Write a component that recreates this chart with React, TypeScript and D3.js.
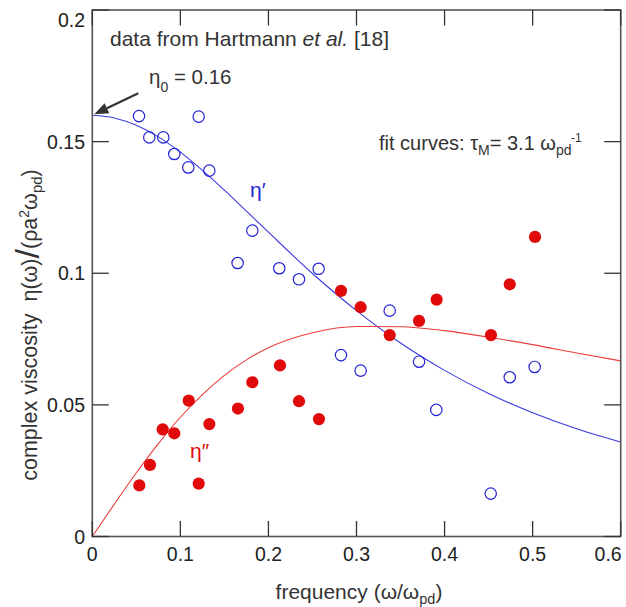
import React from 'react';
import * as d3 from 'd3';

// ---- data ----
const X_TICKS = [0, 0.1, 0.2, 0.3, 0.4, 0.5, 0.6];
const X_TICK_LABELS = ['0', '0.1', '0.2', '0.3', '0.4', '0.5', '0.6'];
const Y_TICKS = [0, 0.05, 0.1, 0.15, 0.2];
const Y_TICK_LABELS = ['0', '0.05', '0.1', '0.15', '0.2'];

// eta' (open blue circles)
const etaPrimeFreq = [0.053, 0.0647, 0.0806, 0.0931, 0.109, 0.1208, 0.1329, 0.165, 0.1817, 0.2123, 0.2347, 0.257, 0.2824, 0.3047, 0.3377, 0.371, 0.3906, 0.4524, 0.474, 0.5023];
const etaPrimeVal = [0.1597, 0.1516, 0.1516, 0.1453, 0.1402, 0.1595, 0.139, 0.1039, 0.1162, 0.1019, 0.0977, 0.1017, 0.0689, 0.063, 0.0858, 0.0664, 0.0481, 0.0163, 0.0605, 0.0644];

// eta'' (filled red circles)
const etaDoubleFreq = [0.0534, 0.0655, 0.0799, 0.0931, 0.1095, 0.1208, 0.1329, 0.1654, 0.1817, 0.2131, 0.2347, 0.2574, 0.2824, 0.3047, 0.3377, 0.371, 0.391, 0.4527, 0.474, 0.5027];
const etaDoubleVal = [0.0194, 0.0272, 0.0407, 0.0392, 0.0516, 0.0201, 0.0427, 0.0486, 0.0586, 0.065, 0.0514, 0.0446, 0.0933, 0.0871, 0.0765, 0.0819, 0.09, 0.0765, 0.0958, 0.1138];

// fit curves
const fitFreq = [0, 0.025, 0.05, 0.075, 0.1, 0.125, 0.15, 0.175, 0.2, 0.25, 0.3, 0.35, 0.4, 0.45, 0.5, 0.55, 0.6];
const fitEtaPrime = [0.16, 0.159, 0.1562, 0.1518, 0.146, 0.1391, 0.1316, 0.1236, 0.1156, 0.0999, 0.0858, 0.0735, 0.0631, 0.0543, 0.047, 0.0409, 0.0359];
const fitEtaDouble = [0, 0.0123, 0.0242, 0.0353, 0.0453, 0.0539, 0.0612, 0.0671, 0.0717, 0.0774, 0.0798, 0.0797, 0.0782, 0.0757, 0.0729, 0.0697, 0.0667];

const ETA0 = 0.16;

const W = 626;
const H = 607;
const FONT = 'Liberation Sans, Arial, Helvetica, sans-serif';

export default function App() {
  const left = 92.3, right = 620.7, top = 10, bottom = 536.5;
  const x = d3.scaleLinear().domain([0, 0.6]).range([left, right]);
  const y = d3.scaleLinear().domain([0, 0.2]).range([bottom, top]);
  const line = d3
    .line<[number, number]>()
    .x((d) => x(d[0]))
    .y((d) => y(d[1]))
    .curve(d3.curveMonotoneX);

  const primeFit: [number, number][] = fitFreq.map((f, i) => [f, fitEtaPrime[i]]);
  const doubleFit: [number, number][] = fitFreq.map((f, i) => [f, fitEtaDouble[i]]);

  const tipX = x(0) + 2;
  const tipY = y(ETA0) - 1;
  const sx = tipX + 44, sy = tipY - 21;
  const len = Math.hypot(sx - tipX, sy - tipY);
  const ux = (tipX - sx) / len, uy = (tipY - sy) / len;
  const hl = 14, hw = 5.5;
  const bx = tipX - ux * hl, by = tipY - uy * hl;
  const px = -uy * hw, py = ux * hw;

  const tickLen = 15.5;
  const blue = '#2323d6';
  const red = '#e00a0a';

  return (
    <svg width={W} height={H} style={{ position: 'absolute', left: 0, top: 0 }} fontFamily={FONT}>
      <rect x={0} y={0} width={W} height={H} fill="#fff" />
      {/* fit curves */}
      <path d={line(primeFit) || ''} fill="none" stroke="#3b3be0" strokeWidth={1.1} />
      <path d={line(doubleFit) || ''} fill="none" stroke="#ea3c3c" strokeWidth={1.1} />

      {/* points */}
      {etaPrimeFreq.map((f, i) => (
        <circle key={'p' + i} cx={x(f)} cy={y(etaPrimeVal[i])} r={5.7} fill="none" stroke={blue} strokeWidth={1.2} />
      ))}
      {etaDoubleFreq.map((f, i) => (
        <circle key={'d' + i} cx={x(f)} cy={y(etaDoubleVal[i])} r={6.1} fill={red} />
      ))}

      {/* frame */}
      <rect x={left} y={top} width={right - left} height={bottom - top} fill="none" stroke="#555" strokeWidth={1.6} />

      {/* ticks */}
      {X_TICKS.map((t) => (
        <g key={'xt' + t}>
          <line x1={x(t)} x2={x(t)} y1={bottom} y2={bottom - tickLen} stroke="#333" strokeWidth={1.3} />
          <line x1={x(t)} x2={x(t)} y1={top} y2={top + tickLen} stroke="#333" strokeWidth={1.3} />
        </g>
      ))}
      {Y_TICKS.map((t) => (
        <g key={'yt' + t}>
          <line x1={left} x2={left + tickLen + 1} y1={y(t)} y2={y(t)} stroke="#333" strokeWidth={1.3} />
          <line x1={right} x2={right - tickLen - 1} y1={y(t)} y2={y(t)} stroke="#333" strokeWidth={1.3} />
        </g>
      ))}

      {/* tick labels */}
      {X_TICKS.map((t, i) => (
        <text
          key={'xl' + t}
          x={i === X_TICKS.length - 1 ? x(t) + 1 : x(t)}
          y={561}
          fontSize={19.5}
          fill="#222"
          textAnchor={i === X_TICKS.length - 1 ? 'end' : 'middle'}
        >
          {X_TICK_LABELS[i]}
        </text>
      ))}
      {Y_TICKS.map((t, i) => (
        <text
          key={'yl' + t}
          x={85}
          y={i === Y_TICKS.length - 1 ? y(t) + 17 : y(t) + 7}
          fontSize={19.5}
          fill="#222"
          textAnchor="end"
        >
          {Y_TICK_LABELS[i]}
        </text>
      ))}

      {/* axis titles */}
      <text x={359} y={599} fontSize={21} fill="#333" textAnchor="middle">
        frequency (ω/ω<tspan dy={5} fontSize={14.5}>pd</tspan>
        <tspan dy={-5}>)</tspan>
      </text>
      <text transform="translate(37,325) rotate(-90)" fontSize={21.5} fill="#333" textAnchor="middle">
        complex viscosity{'\u00a0\u00a0'}η(ω)<tspan fontSize={34} dy={2}>/</tspan>
        <tspan dy={-2}>(ρa</tspan>
        <tspan dy={-8} fontSize={14}>2</tspan>
        <tspan dy={8}>ω</tspan>
        <tspan dy={5} fontSize={15}>pd</tspan>
        <tspan dy={-5}>)</tspan>
      </text>

      {/* annotations */}
      <text x={110} y={46} fontSize={21} fill="#333">
        data from Hartmann <tspan fontStyle="italic">et al.</tspan> [18]
      </text>
      <text x={149} y={84} fontSize={20.5} fill="#333">
        η<tspan dy={8} fontSize={14}>0</tspan>
        <tspan dy={-8}> = 0.16</tspan>
      </text>
      <line x1={sx} y1={sy} x2={bx} y2={by} stroke="#333" strokeWidth={2.2} />
      <polygon points={`${tipX},${tipY} ${bx + px},${by + py} ${bx - px},${by - py}`} fill="#333" />

      <text x={379} y={150} fontSize={20} fill="#333">
        fit curves: τ<tspan dy={5} fontSize={14}>M</tspan>
        <tspan dy={-5}>= 3.1 ω</tspan>
        <tspan dy={5} fontSize={14}>pd</tspan>
      </text>
      <text x={571} y={142} fontSize={12} fill="#333">-1</text>

      <text x={250} y={197} fontSize={21} fill={blue}>η′</text>
      <text x={190} y={458} fontSize={21} fill={red}>η″</text>
    </svg>
  );
}
